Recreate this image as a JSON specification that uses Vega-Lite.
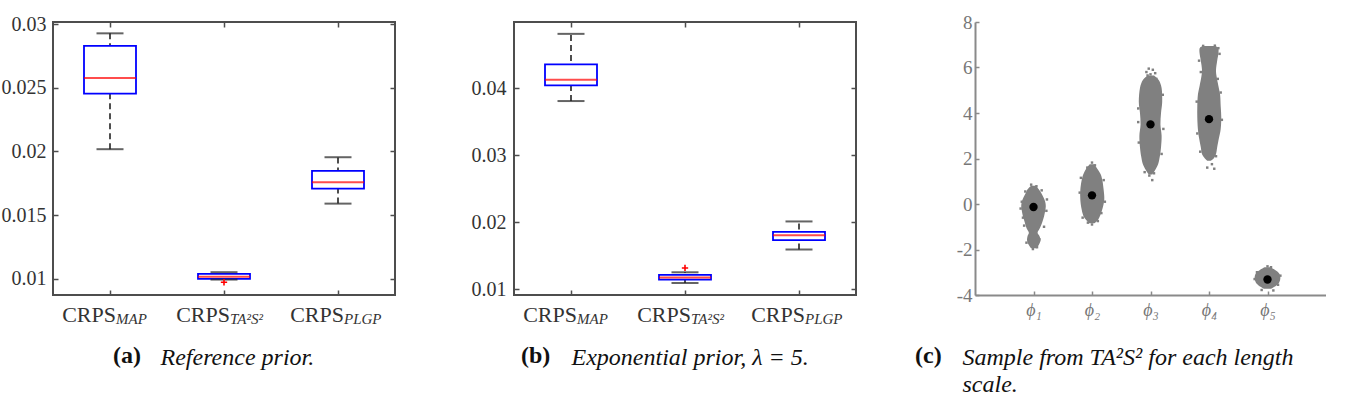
{
  "$schema": "https://vega.github.io/schema/vega-lite/v6.json",
  "padding": {"left": 0, "top": 13, "right": 0, "bottom": 0},
  "bounds": "flush",
  "spacing": 119,
  "config": {
    "font": "Liberation Serif",
    "text": {"font": "Liberation Serif"},
    "axis": {"grid": false, "labelFont": "Liberation Serif", "titleFont": "Liberation Serif"},
    "title": {"font": "Liberation Serif"}
  },
  "datasets": {
    "boxA": [
      {"cat": "MAP", "lw": 0.02018, "q1": 0.02454, "med": 0.02577, "q3": 0.02829, "uw": 0.02927},
      {"cat": "TA2S2", "lw": 0.00995, "q1": 0.01000, "med": 0.01017, "q3": 0.01039, "uw": 0.01053},
      {"cat": "PLGP", "lw": 0.01591, "q1": 0.01709, "med": 0.01758, "q3": 0.01848, "uw": 0.01955}
    ],
    "outA": [{"cat": "TA2S2", "v": 0.00974}],
    "boxB": [
      {"cat": "MAP", "lw": 0.0381, "q1": 0.04043, "med": 0.04129, "q3": 0.04358, "uw": 0.04813},
      {"cat": "TA2S2", "lw": 0.01094, "q1": 0.01145, "med": 0.01175, "q3": 0.01214, "uw": 0.01254},
      {"cat": "PLGP", "lw": 0.01594, "q1": 0.01734, "med": 0.01808, "q3": 0.01858, "uw": 0.02013}
    ],
    "outB": [{"cat": "TA2S2", "v": 0.01319}],
    "subs": [
      {"cat": "MAP", "sub": "MAP"},
      {"cat": "TA2S2", "sub": "TA²S²"},
      {"cat": "PLGP", "sub": "PLGP"}
    ],
    "clouds": [
      {"phi": 1, "y": 0.80, "lo": 0.96, "hi": 1.04},
      {"phi": 1, "y": 0.65, "lo": 0.90, "hi": 1.09},
      {"phi": 1, "y": 0.50, "lo": 0.87, "hi": 1.13},
      {"phi": 1, "y": 0.30, "lo": 0.83, "hi": 1.17},
      {"phi": 1, "y": 0.10, "lo": 0.80, "hi": 1.20},
      {"phi": 1, "y": -0.10, "lo": 0.79, "hi": 1.21},
      {"phi": 1, "y": -0.30, "lo": 0.80, "hi": 1.20},
      {"phi": 1, "y": -0.55, "lo": 0.82, "hi": 1.18},
      {"phi": 1, "y": -0.80, "lo": 0.85, "hi": 1.15},
      {"phi": 1, "y": -1.05, "lo": 0.88, "hi": 1.11},
      {"phi": 1, "y": -1.25, "lo": 0.92, "hi": 1.07},
      {"phi": 1, "y": -1.40, "lo": 0.90, "hi": 1.10},
      {"phi": 1, "y": -1.60, "lo": 0.89, "hi": 1.12},
      {"phi": 1, "y": -1.80, "lo": 0.92, "hi": 1.09},
      {"phi": 1, "y": -1.95, "lo": 0.96, "hi": 1.05},
      {"phi": 2, "y": 1.75, "lo": 1.96, "hi": 2.04},
      {"phi": 2, "y": 1.55, "lo": 1.90, "hi": 2.09},
      {"phi": 2, "y": 1.30, "lo": 1.85, "hi": 2.15},
      {"phi": 2, "y": 1.00, "lo": 1.82, "hi": 2.18},
      {"phi": 2, "y": 0.60, "lo": 1.80, "hi": 2.20},
      {"phi": 2, "y": 0.20, "lo": 1.80, "hi": 2.21},
      {"phi": 2, "y": -0.20, "lo": 1.82, "hi": 2.18},
      {"phi": 2, "y": -0.50, "lo": 1.85, "hi": 2.14},
      {"phi": 2, "y": -0.70, "lo": 1.90, "hi": 2.10},
      {"phi": 2, "y": -0.85, "lo": 1.96, "hi": 2.04},
      {"phi": 3, "y": 5.65, "lo": 2.95, "hi": 3.06},
      {"phi": 3, "y": 5.45, "lo": 2.87, "hi": 3.14},
      {"phi": 3, "y": 5.10, "lo": 2.82, "hi": 3.19},
      {"phi": 3, "y": 4.50, "lo": 2.80, "hi": 3.20},
      {"phi": 3, "y": 4.00, "lo": 2.82, "hi": 3.18},
      {"phi": 3, "y": 3.50, "lo": 2.83, "hi": 3.17},
      {"phi": 3, "y": 3.00, "lo": 2.81, "hi": 3.19},
      {"phi": 3, "y": 2.50, "lo": 2.82, "hi": 3.18},
      {"phi": 3, "y": 2.10, "lo": 2.84, "hi": 3.16},
      {"phi": 3, "y": 1.75, "lo": 2.87, "hi": 3.13},
      {"phi": 3, "y": 1.50, "lo": 2.92, "hi": 3.08},
      {"phi": 3, "y": 1.30, "lo": 2.97, "hi": 3.03},
      {"phi": 4, "y": 6.95, "lo": 3.89, "hi": 4.11},
      {"phi": 4, "y": 6.85, "lo": 3.84, "hi": 4.16},
      {"phi": 4, "y": 6.60, "lo": 3.84, "hi": 4.16},
      {"phi": 4, "y": 6.30, "lo": 3.86, "hi": 4.14},
      {"phi": 4, "y": 5.90, "lo": 3.88, "hi": 4.12},
      {"phi": 4, "y": 5.60, "lo": 3.87, "hi": 4.13},
      {"phi": 4, "y": 5.20, "lo": 3.84, "hi": 4.16},
      {"phi": 4, "y": 4.80, "lo": 3.81, "hi": 4.19},
      {"phi": 4, "y": 4.30, "lo": 3.80, "hi": 4.20},
      {"phi": 4, "y": 3.80, "lo": 3.80, "hi": 4.21},
      {"phi": 4, "y": 3.30, "lo": 3.81, "hi": 4.20},
      {"phi": 4, "y": 2.90, "lo": 3.83, "hi": 4.17},
      {"phi": 4, "y": 2.50, "lo": 3.86, "hi": 4.14},
      {"phi": 4, "y": 2.20, "lo": 3.88, "hi": 4.12},
      {"phi": 4, "y": 2.00, "lo": 3.93, "hi": 4.08},
      {"phi": 4, "y": 1.90, "lo": 3.97, "hi": 4.03},
      {"phi": 5, "y": -2.78, "lo": 4.95, "hi": 5.05},
      {"phi": 5, "y": -2.90, "lo": 4.87, "hi": 5.13},
      {"phi": 5, "y": -3.05, "lo": 4.80, "hi": 5.20},
      {"phi": 5, "y": -3.25, "lo": 4.78, "hi": 5.22},
      {"phi": 5, "y": -3.45, "lo": 4.80, "hi": 5.20},
      {"phi": 5, "y": -3.60, "lo": 4.86, "hi": 5.14},
      {"phi": 5, "y": -3.72, "lo": 4.94, "hi": 5.06}
    ],
    "edges": [
      {"x": 0.96, "y": 0.85}, {"x": 1.05, "y": 0.78}, {"x": 0.80, "y": 0.1}, {"x": 1.22, "y": -0.3},
      {"x": 0.82, "y": -0.6}, {"x": 1.18, "y": -1.0}, {"x": 0.95, "y": -1.3}, {"x": 1.10, "y": -1.55},
      {"x": 0.99, "y": -1.98}, {"x": 1.06, "y": -1.9}, {"x": 0.88, "y": -1.7}, {"x": 0.78, "y": -0.2},
      {"x": 1.23, "y": 0.2}, {"x": 0.86, "y": 0.55}, {"x": 1.14, "y": 0.6}, {"x": 0.84, "y": -0.95},
      {"x": 2.0, "y": 1.82}, {"x": 2.05, "y": 1.7}, {"x": 1.92, "y": 1.6}, {"x": 1.79, "y": 0.5},
      {"x": 2.22, "y": 0.1}, {"x": 1.84, "y": -0.6}, {"x": 2.1, "y": -0.75}, {"x": 2.0, "y": -0.9},
      {"x": 2.2, "y": 1.05}, {"x": 1.81, "y": 1.15}, {"x": 2.16, "y": -0.4}, {"x": 1.93, "y": -0.82},
      {"x": 2.97, "y": 5.95}, {"x": 3.04, "y": 5.9}, {"x": 2.93, "y": 5.8}, {"x": 3.08, "y": 5.75},
      {"x": 3.0, "y": 5.7}, {"x": 2.95, "y": 5.65}, {"x": 3.1, "y": 5.5}, {"x": 2.79, "y": 4.2},
      {"x": 3.22, "y": 3.3}, {"x": 2.8, "y": 2.7}, {"x": 3.19, "y": 2.2}, {"x": 2.98, "y": 1.25},
      {"x": 3.03, "y": 1.05}, {"x": 2.9, "y": 1.4}, {"x": 3.21, "y": 4.8}, {"x": 2.79, "y": 3.6},
      {"x": 3.06, "y": 1.35}, {"x": 2.91, "y": 5.45},
      {"x": 3.9, "y": 6.95}, {"x": 4.1, "y": 6.96}, {"x": 4.18, "y": 6.6}, {"x": 3.83, "y": 6.3},
      {"x": 4.15, "y": 5.5}, {"x": 3.79, "y": 4.5}, {"x": 4.22, "y": 3.7}, {"x": 3.85, "y": 2.3},
      {"x": 4.12, "y": 2.1}, {"x": 4.05, "y": 1.75}, {"x": 3.97, "y": 1.6}, {"x": 4.09, "y": 1.55},
      {"x": 3.8, "y": 3.1}, {"x": 4.2, "y": 4.9}, {"x": 3.86, "y": 5.8}, {"x": 4.16, "y": 6.85},
      {"x": 4.78, "y": -3.3}, {"x": 5.22, "y": -3.15}, {"x": 4.9, "y": -3.78}, {"x": 5.1, "y": -3.8},
      {"x": 5.0, "y": -2.74}, {"x": 5.06, "y": -2.78}, {"x": 4.82, "y": -3.0}, {"x": 5.18, "y": -3.55}
    ],
    "means": [
      {"x": 1, "y": -0.13}, {"x": 2, "y": 0.38}, {"x": 3, "y": 3.5}, {"x": 4, "y": 3.73}, {"x": 5, "y": -3.32}
    ]
  },
  "hconcat": [
    {
      "width": 342, "height": 273,
      "view": {"stroke": "#4d4d4d", "strokeWidth": 2},
      "title": {"text": "(a)", "orient": "bottom", "anchor": "start", "frame": "group", "dx": 60, "offset": -6, "fontSize": 24, "fontWeight": "bold", "baseline": "alphabetic", "color": "#111", "font": "Liberation Serif"},
      "resolve": {"axis": {"x": "independent", "y": "independent"}},
      "layer": [
        {
          "data": {"name": "boxA"},
          "mark": {"type": "rule", "color": "#222", "strokeWidth": 1.6, "strokeDash": [6, 4]},
          "encoding": {
            "x": {"field": "cat", "type": "nominal", "sort": null, "scale": {"type": "band", "domain": ["MAP", "TA2S2", "PLGP"], "paddingInner": 0, "paddingOuter": 0},
                  "axis": {"orient": "top", "labels": false, "tickSize": -5, "domain": false, "title": null, "tickColor": "#4d4d4d", "tickWidth": 1.5}},
            "y": {"field": "lw", "type": "quantitative", "scale": {"domain": [0.00874, 0.03016], "nice": false, "zero": false},
                  "axis": {"orient": "right", "labels": false, "tickSize": -5, "domain": false, "title": null, "values": [0.01, 0.015, 0.02, 0.025, 0.03], "tickColor": "#4d4d4d", "tickWidth": 1.5}},
            "y2": {"field": "uw"}
          }
        },
        {
          "data": {"name": "boxA"},
          "mark": {"type": "bar", "width": 52, "fill": "white", "stroke": "#0000ff", "strokeWidth": 1.8},
          "encoding": {
            "x": {"field": "cat", "type": "nominal", "sort": null, "scale": {"type": "band", "domain": ["MAP", "TA2S2", "PLGP"], "paddingInner": 0, "paddingOuter": 0},
                  "axis": {"orient": "bottom", "labelExpr": "'CRPS'", "labelAlign": "right", "labelOffset": 6, "labelFont": "Liberation Serif", "labelFontSize": 22, "labelColor": "#333", "labelBaseline": "alphabetic", "labelPadding": 31, "tickSize": -5, "tickColor": "#4d4d4d", "tickWidth": 1.5, "domain": false, "labelAngle": 0,
                           "title": "Reference prior.", "titleFont": "Liberation Serif", "titleFontSize": 24, "titleFontStyle": "italic", "titleFontWeight": "normal", "titleColor": "#111", "titleAlign": "left", "titleBaseline": "alphabetic", "titleX": 107, "titleY": 69}},
            "y": {"field": "q1", "type": "quantitative", "scale": {"domain": [0.00874, 0.03016], "nice": false, "zero": false},
                  "axis": {"orient": "left", "values": [0.01, 0.015, 0.02, 0.025, 0.03], "format": ".3~f", "labelFont": "Liberation Serif", "labelFontSize": 20, "labelColor": "#333", "labelPadding": 12, "tickSize": -5, "tickColor": "#4d4d4d", "tickWidth": 1.5, "domain": false, "title": null}},
            "y2": {"field": "q3"}
          }
        },
        {
          "data": {"name": "boxA"},
          "mark": {"type": "tick", "color": "#222", "size": 27, "thickness": 2},
          "encoding": {
            "x": {"field": "cat", "type": "nominal", "sort": null, "scale": {"type": "band", "domain": ["MAP", "TA2S2", "PLGP"], "paddingInner": 0, "paddingOuter": 0}, "axis": null},
            "y": {"field": "uw", "type": "quantitative", "scale": {"domain": [0.00874, 0.03016], "nice": false, "zero": false}, "axis": null}
          }
        },
        {
          "data": {"name": "boxA"},
          "mark": {"type": "tick", "color": "#222", "size": 27, "thickness": 2},
          "encoding": {
            "x": {"field": "cat", "type": "nominal", "sort": null, "scale": {"type": "band", "domain": ["MAP", "TA2S2", "PLGP"], "paddingInner": 0, "paddingOuter": 0}, "axis": null},
            "y": {"field": "lw", "type": "quantitative", "scale": {"domain": [0.00874, 0.03016], "nice": false, "zero": false}, "axis": null}
          }
        },
        {
          "data": {"name": "boxA"},
          "mark": {"type": "tick", "color": "#ff0000", "size": 52, "thickness": 2},
          "encoding": {
            "x": {"field": "cat", "type": "nominal", "sort": null, "scale": {"type": "band", "domain": ["MAP", "TA2S2", "PLGP"], "paddingInner": 0, "paddingOuter": 0}, "axis": null},
            "y": {"field": "med", "type": "quantitative", "scale": {"domain": [0.00874, 0.03016], "nice": false, "zero": false}, "axis": null}
          }
        },
        {
          "data": {"name": "outA"},
          "mark": {"type": "point", "shape": "M-1,0L1,0M0,-1L0,1", "size": 40, "filled": false, "stroke": "#ff0000", "strokeWidth": 1.6, "opacity": 1},
          "encoding": {
            "x": {"field": "cat", "type": "nominal", "sort": null, "scale": {"type": "band", "domain": ["MAP", "TA2S2", "PLGP"], "paddingInner": 0, "paddingOuter": 0}, "axis": null},
            "y": {"field": "v", "type": "quantitative", "scale": {"domain": [0.00874, 0.03016], "nice": false, "zero": false}, "axis": null}
          }
        },
        {
          "data": {"name": "subs"},
          "mark": {"type": "text", "align": "left", "baseline": "alphabetic", "dx": 6, "dy": 29, "font": "Liberation Serif", "fontSize": 15, "fontStyle": "italic", "color": "#333"},
          "encoding": {
            "x": {"field": "cat", "type": "nominal", "sort": null, "scale": {"type": "band", "domain": ["MAP", "TA2S2", "PLGP"], "paddingInner": 0, "paddingOuter": 0}, "axis": null},
            "y": {"datum": 0.00874, "type": "quantitative", "scale": {"domain": [0.00874, 0.03016], "nice": false, "zero": false}, "axis": null},
            "text": {"field": "sub"}
          }
        }
      ]
    },
    {
      "width": 342, "height": 273,
      "view": {"stroke": "#4d4d4d", "strokeWidth": 2},
      "title": {"text": "(b)", "orient": "bottom", "anchor": "start", "frame": "group", "dx": 7, "offset": -6, "fontSize": 24, "fontWeight": "bold", "baseline": "alphabetic", "color": "#111", "font": "Liberation Serif"},
      "resolve": {"axis": {"x": "independent", "y": "independent"}},
      "layer": [
        {
          "data": {"name": "boxB"},
          "mark": {"type": "rule", "color": "#222", "strokeWidth": 1.6, "strokeDash": [6, 4]},
          "encoding": {
            "x": {"field": "cat", "type": "nominal", "sort": null, "scale": {"type": "band", "domain": ["MAP", "TA2S2", "PLGP"], "paddingInner": 0, "paddingOuter": 0},
                  "axis": {"orient": "top", "labels": false, "tickSize": -5, "domain": false, "title": null, "tickColor": "#4d4d4d", "tickWidth": 1.5}},
            "y": {"field": "lw", "type": "quantitative", "scale": {"domain": [0.00915, 0.0499], "nice": false, "zero": false},
                  "axis": {"orient": "right", "labels": false, "tickSize": -5, "domain": false, "title": null, "values": [0.01, 0.02, 0.03, 0.04], "tickColor": "#4d4d4d", "tickWidth": 1.5}},
            "y2": {"field": "uw"}
          }
        },
        {
          "data": {"name": "boxB"},
          "mark": {"type": "bar", "width": 52, "fill": "white", "stroke": "#0000ff", "strokeWidth": 1.8},
          "encoding": {
            "x": {"field": "cat", "type": "nominal", "sort": null, "scale": {"type": "band", "domain": ["MAP", "TA2S2", "PLGP"], "paddingInner": 0, "paddingOuter": 0},
                  "axis": {"orient": "bottom", "labelExpr": "'CRPS'", "labelAlign": "right", "labelOffset": 6, "labelFont": "Liberation Serif", "labelFontSize": 22, "labelColor": "#333", "labelBaseline": "alphabetic", "labelPadding": 31, "tickSize": -5, "tickColor": "#4d4d4d", "tickWidth": 1.5, "domain": false, "labelAngle": 0,
                           "title": "Exponential prior, λ = 5.", "titleFont": "Liberation Serif", "titleFontSize": 24, "titleFontStyle": "italic", "titleFontWeight": "normal", "titleColor": "#111", "titleAlign": "left", "titleBaseline": "alphabetic", "titleX": 57, "titleY": 69}},
            "y": {"field": "q1", "type": "quantitative", "scale": {"domain": [0.00915, 0.0499], "nice": false, "zero": false},
                  "axis": {"orient": "left", "values": [0.01, 0.02, 0.03, 0.04], "format": ".2~f", "labelFont": "Liberation Serif", "labelFontSize": 20, "labelColor": "#333", "labelPadding": 13, "tickSize": -5, "tickColor": "#4d4d4d", "tickWidth": 1.5, "domain": false, "title": null}},
            "y2": {"field": "q3"}
          }
        },
        {
          "data": {"name": "boxB"},
          "mark": {"type": "tick", "color": "#222", "size": 27, "thickness": 2},
          "encoding": {
            "x": {"field": "cat", "type": "nominal", "sort": null, "scale": {"type": "band", "domain": ["MAP", "TA2S2", "PLGP"], "paddingInner": 0, "paddingOuter": 0}, "axis": null},
            "y": {"field": "uw", "type": "quantitative", "scale": {"domain": [0.00915, 0.0499], "nice": false, "zero": false}, "axis": null}
          }
        },
        {
          "data": {"name": "boxB"},
          "mark": {"type": "tick", "color": "#222", "size": 27, "thickness": 2},
          "encoding": {
            "x": {"field": "cat", "type": "nominal", "sort": null, "scale": {"type": "band", "domain": ["MAP", "TA2S2", "PLGP"], "paddingInner": 0, "paddingOuter": 0}, "axis": null},
            "y": {"field": "lw", "type": "quantitative", "scale": {"domain": [0.00915, 0.0499], "nice": false, "zero": false}, "axis": null}
          }
        },
        {
          "data": {"name": "boxB"},
          "mark": {"type": "tick", "color": "#ff0000", "size": 52, "thickness": 2},
          "encoding": {
            "x": {"field": "cat", "type": "nominal", "sort": null, "scale": {"type": "band", "domain": ["MAP", "TA2S2", "PLGP"], "paddingInner": 0, "paddingOuter": 0}, "axis": null},
            "y": {"field": "med", "type": "quantitative", "scale": {"domain": [0.00915, 0.0499], "nice": false, "zero": false}, "axis": null}
          }
        },
        {
          "data": {"name": "outB"},
          "mark": {"type": "point", "shape": "M-1,0L1,0M0,-1L0,1", "size": 40, "filled": false, "stroke": "#ff0000", "strokeWidth": 1.6, "opacity": 1},
          "encoding": {
            "x": {"field": "cat", "type": "nominal", "sort": null, "scale": {"type": "band", "domain": ["MAP", "TA2S2", "PLGP"], "paddingInner": 0, "paddingOuter": 0}, "axis": null},
            "y": {"field": "v", "type": "quantitative", "scale": {"domain": [0.00915, 0.0499], "nice": false, "zero": false}, "axis": null}
          }
        },
        {
          "data": {"name": "subs"},
          "mark": {"type": "text", "align": "left", "baseline": "alphabetic", "dx": 6, "dy": 29, "font": "Liberation Serif", "fontSize": 15, "fontStyle": "italic", "color": "#333"},
          "encoding": {
            "x": {"field": "cat", "type": "nominal", "sort": null, "scale": {"type": "band", "domain": ["MAP", "TA2S2", "PLGP"], "paddingInner": 0, "paddingOuter": 0}, "axis": null},
            "y": {"datum": 0.00915, "type": "quantitative", "scale": {"domain": [0.00915, 0.0499], "nice": false, "zero": false}, "axis": null},
            "text": {"field": "sub"}
          }
        }
      ]
    },
    {
      "width": 351, "height": 273,
      "view": {"stroke": null},
      "title": {"text": "(c)", "orient": "bottom", "anchor": "start", "frame": "group", "dx": -60, "offset": -33, "fontSize": 24, "fontWeight": "bold", "baseline": "alphabetic", "color": "#111", "font": "Liberation Serif"},
      "layer": [
        {
          "data": {"name": "clouds"},
          "mark": {"type": "area", "orient": "horizontal", "color": "#808080", "opacity": 1, "interpolate": "cardinal"},
          "encoding": {
            "y": {"field": "y", "type": "quantitative", "scale": {"domain": [-4, 8], "nice": false, "zero": false},
                  "axis": {"values": [-4, -2, 0, 2, 4, 6, 8], "labelExpr": "'' + datum.value", "labelFont": "Liberation Serif", "labelFontSize": 19, "labelColor": "#777", "labelPadding": 7, "tickSize": -4, "tickColor": "#8a8a8a", "tickWidth": 1.5, "domainColor": "#8a8a8a", "domainWidth": 2, "title": null}},
            "x": {"field": "lo", "type": "quantitative", "scale": {"domain": [0, 6], "nice": false, "zero": false},
                  "axis": {"values": [1, 2, 3, 4, 5], "labelExpr": "['', 'ϕ₁', 'ϕ₂', 'ϕ₃', 'ϕ₄', 'ϕ₅'][datum.value]", "labelFont": "Liberation Serif", "labelFontSize": 18, "labelFontStyle": "italic", "labelColor": "#777", "labelPadding": 10, "tickSize": -4, "tickColor": "#8a8a8a", "tickWidth": 1.5, "domainColor": "#8a8a8a", "domainWidth": 2,
                           "title": ["Sample from TA²S² for each length", "scale."], "titleFont": "Liberation Serif", "titleFontSize": 24, "titleFontStyle": "italic", "titleFontWeight": "normal", "titleColor": "#111", "titleAlign": "left", "titleBaseline": "alphabetic", "titleX": -13, "titleY": 69, "titleLineHeight": 27}},
            "x2": {"field": "hi"},
            "detail": {"field": "phi", "type": "nominal"}
          }
        },
        {
          "data": {"name": "edges"},
          "mark": {"type": "square", "size": 6, "color": "#808080", "opacity": 1},
          "encoding": {
            "x": {"field": "x", "type": "quantitative"},
            "y": {"field": "y", "type": "quantitative"}
          }
        },
        {
          "data": {"name": "means"},
          "mark": {"type": "circle", "size": 70, "color": "#000000", "opacity": 1},
          "encoding": {
            "x": {"field": "x", "type": "quantitative"},
            "y": {"field": "y", "type": "quantitative"}
          }
        }
      ]
    }
  ]
}
